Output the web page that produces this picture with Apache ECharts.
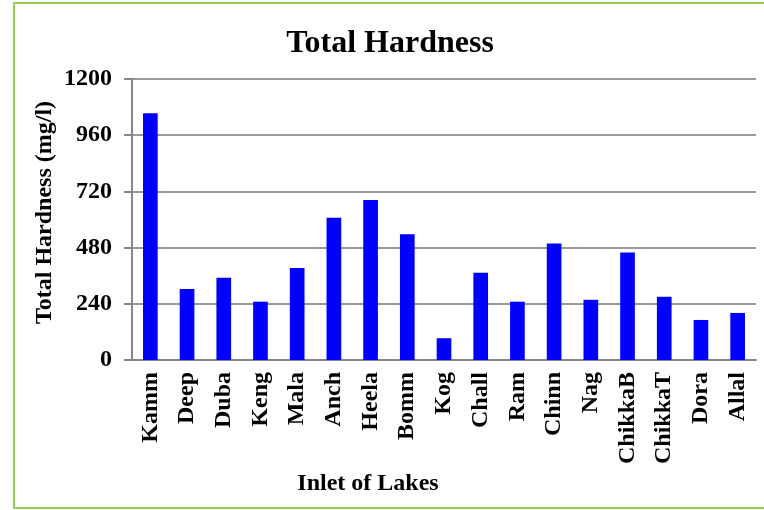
<!DOCTYPE html>
<html>
<head>
<meta charset="utf-8">
<title>Total Hardness</title>
<script src="https://cdn.jsdelivr.net/npm/echarts@6/dist/echarts.min.js"></script>
<style>
  html, body { margin: 0; padding: 0; background: #ffffff; }
  #chart { width: 764px; height: 510px; }
</style>
</head>
<body>
<div id="chart"></div>
<script>
// Lake inlets and their total hardness (mg/l)
const lakes = ['Kamm', 'Deep', 'Duba', 'Keng', 'Mala', 'Anch', 'Heela', 'Bomm', 'Kog',
  'Chall', 'Ram', 'Chinn', 'Nag', 'ChikkaB', 'ChikkaT', 'Dora', 'Allal'];
const hardness = [1054, 303, 351, 249, 393, 607, 683, 537, 93,
  373, 249, 498, 257, 459, 270, 171, 201];
const yTicks = [0, 240, 480, 720, 960, 1200];

const serif = '"Liberation Serif", "Times New Roman", serif';
const chart = echarts.init(document.getElementById('chart'), null, { renderer: 'canvas' });

chart.setOption({
  animation: false,
  backgroundColor: '#ffffff',
  title: {
    text: 'Total Hardness',
    left: 385,
    top: 23,
    textAlign: 'center',
    textStyle: { fontFamily: serif, fontWeight: 'bold', fontSize: 32, color: '#000' }
  },
  graphic: [{
    type: 'rect',
    shape: { x: 14, y: 3, width: 800, height: 505 },
    style: { fill: 'none', stroke: '#92d050', lineWidth: 2 },
    silent: true
  }],
  grid: { left: 132, right: 8, top: 79, bottom: 150 },
  xAxis: {
    type: 'category',
    data: lakes,
    name: 'Inlet of Lakes',
    nameLocation: 'middle',
    nameGap: 110,
    nameTextStyle: {
      fontFamily: serif, fontWeight: 'bold', fontSize: 24, color: '#000',
      padding: [0, 152, 0, 0]
    },
    axisLine: { lineStyle: { color: '#868686', width: 2 } },
    axisTick: { show: false },
    axisLabel: {
      rotate: 90, margin: 12, interval: 0,
      fontFamily: serif, fontWeight: 'bold', fontSize: 24, color: '#000'
    }
  },
  yAxis: {
    type: 'value',
    min: yTicks[0],
    max: yTicks[yTicks.length - 1],
    interval: yTicks[1] - yTicks[0],
    name: 'Total Hardness (mg/l)',
    nameLocation: 'middle',
    nameGap: 75,
    nameMoveOverlap: false,
    nameRotate: 90,
    nameTextStyle: {
      fontFamily: serif, fontWeight: 'bold', fontSize: 24, color: '#000',
      padding: [0, 0, 0, 14]
    },
    axisLine: { show: true, lineStyle: { color: '#868686', width: 2 } },
    axisTick: { show: true, length: 8, lineStyle: { color: '#868686', width: 2 } },
    axisLabel: {
      margin: 20, fontFamily: serif, fontWeight: 'bold', fontSize: 24, color: '#000',
      formatter: (v) => String(v)
    },
    splitLine: { lineStyle: { color: '#9a9a9a', width: 2 } }
  },
  series: [{
    type: 'bar',
    data: hardness,
    barWidth: '40%',
    itemStyle: { color: '#0000ff' }
  }]
});
</script>
</body>
</html>
